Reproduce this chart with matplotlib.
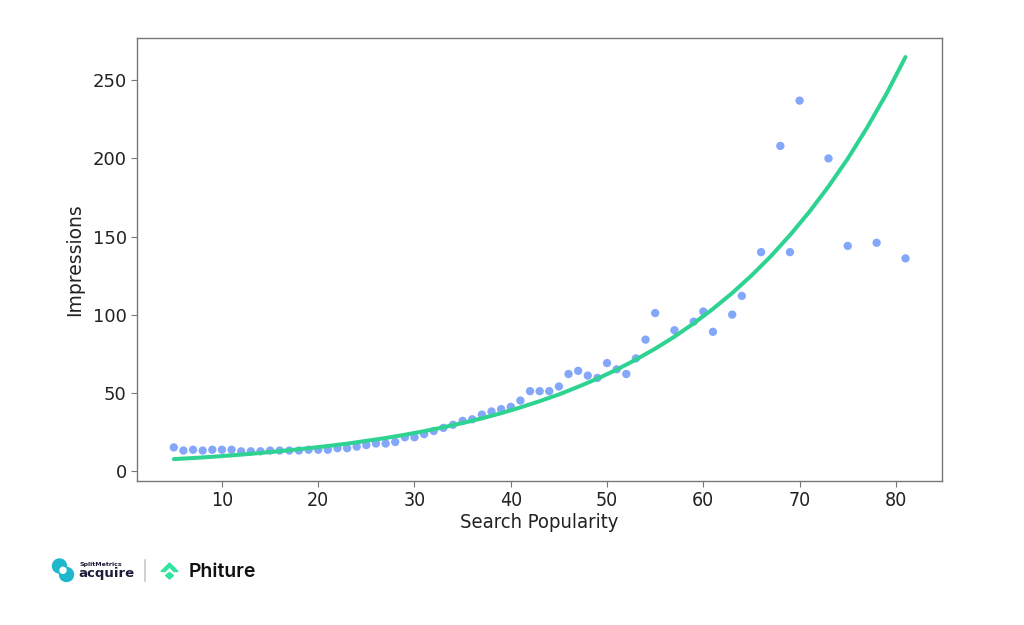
import numpy as np
import matplotlib.pyplot as plt
from matplotlib.patches import Circle, Polygon

# scatter data
popularity = [5, 6, 7, 8, 9, 10, 11, 12, 13, 14, 15, 16, 17, 18, 19, 20,
              21, 22, 23, 24, 25, 26, 27, 28, 29, 30, 31, 32, 33, 34, 35,
              36, 37, 38, 39, 40, 41, 42, 43, 44, 45, 46, 47, 48, 49, 50,
              51, 52, 53, 54, 55, 57, 59, 60, 61, 63, 64, 66, 68, 69, 70,
              73, 75, 78, 81]
impressions = [15, 13, 13.5, 13, 13.5, 13.5, 13.5, 12.5, 12.5, 12.5, 13, 13,
               13, 13, 13.5, 13.5, 13.5, 14.5, 14.5, 15.5, 16.5, 17.5, 17.5,
               18.5, 21.5, 21.5, 23.5, 25.5, 27.5, 29.5, 32, 33, 36, 38, 39.5,
               41, 45, 51, 51, 51, 54, 62, 64, 61, 59.5, 69, 65, 62, 72, 84,
               101, 90, 95.5, 102, 89, 100, 112, 140, 208, 140, 237, 200, 144,
               146, 136]

# trend line values
curve_x = [5, 7, 9, 11, 13, 15, 17, 19, 21, 23, 25, 27, 29, 31, 33, 35, 37,
           39, 41, 43, 45, 47, 49, 51, 53, 55, 57, 59, 61, 63, 65, 67, 69,
           71, 73, 75, 77, 79, 81]
curve_y = [7.5, 8.2, 9.0, 9.9, 10.9, 12.0, 13.2, 14.5, 15.9, 17.4, 19.2,
           21.0, 23.1, 25.4, 27.9, 30.6, 33.6, 36.9, 40.6, 44.6, 48.9, 53.8,
           59.0, 64.8, 71.2, 78.2, 85.9, 94.4, 103.7, 113.8, 125.0, 137.3,
           150.9, 165.7, 182.0, 199.8, 219.6, 241.1, 264.9]

fig = plt.figure(figsize=(10.24, 6.25), dpi=100)
ax = fig.add_axes([0.134, 0.2304, 0.786, 0.7086])

ax.scatter(popularity, impressions, s=36, color='#84a7f9', edgecolors='none', zorder=2)
ax.plot(curve_x, curve_y, color='#2ed392', linewidth=2.9,
        solid_joinstyle='round', solid_capstyle='round', zorder=3)

ax.set_xlim(1.2, 84.8)
ax.set_ylim(-6.5, 277)
ax.set_xticks([10, 20, 30, 40, 50, 60, 70, 80])
ax.set_yticks([0, 50, 100, 150, 200, 250])
ax.set_xlabel('Search Popularity', fontsize=14.5, color='#222222', fontstretch='condensed', labelpad=2)
ax.set_ylabel('Impressions', fontsize=13.5, color='#222222', labelpad=6)
ax.tick_params(axis='y', labelsize=13, colors='#222222', length=4, color='#777777')
ax.tick_params(axis='x', labelsize=14, colors='#222222', length=4, color='#777777')
for lab in ax.get_xticklabels():
    lab.set_fontstretch('condensed')
for s in ax.spines.values():
    s.set_color('#777777')
    s.set_linewidth(1.0)

# logo strip at the bottom (pixel coordinates)
la = fig.add_axes([0, 0, 1, 1], zorder=-1)
la.set_xlim(0, 1024)
la.set_ylim(625, 0)
la.axis('off')
la.add_patch(Circle((59.5, 566), 7, color='#1fb7cc'))
la.add_patch(Circle((66.5, 574.5), 7, color='#1fb7cc'))
la.add_patch(Circle((63, 570.3), 3.0, color='white'))
la.text(79, 564.5, 'SplitMetrics', fontsize=4.5, fontweight='bold', color='#1d1d3b', va='center')
la.text(78.5, 574, 'acquire', fontsize=9.5, fontweight='bold', color='#1d1d3b', va='center')
la.plot([145, 145], [560, 581], color='#c8c8cc', linewidth=1.2)
la.add_patch(Polygon([[161, 571.5], [169.5, 563], [178, 571.5], [174, 571.5], [169.5, 567], [165, 571.5]],
                     closed=True, color='#2ee59d'))
la.add_patch(Polygon([[169.5, 572.5], [173.5, 575.5], [169.5, 579], [165.5, 575.5]],
                     closed=True, color='#2ee59d'))
la.text(189, 572, 'Phiture', fontsize=14, fontweight='semibold', family='Inter',
        color='#111111', va='center')

fig.savefig('out.png', dpi=100, facecolor='white')
